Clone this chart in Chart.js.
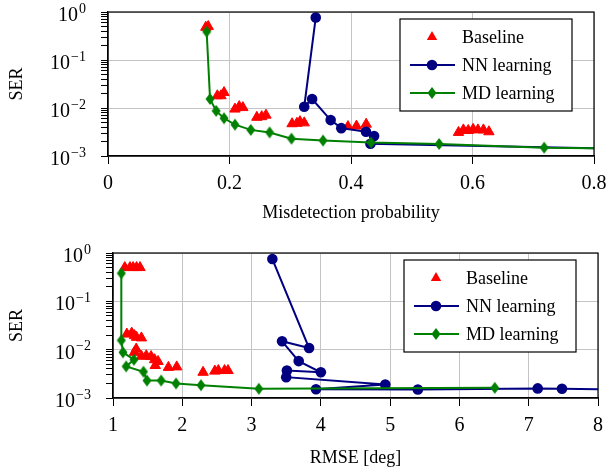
<!DOCTYPE html>
<html>
<head>
<meta charset="utf-8">
<script src="https://cdn.jsdelivr.net/npm/chart.js@4.4.0/dist/chart.umd.min.js"></script>
<style>
  html, body { margin: 0; padding: 0; background: #fff; }
  #wrap { position: relative; width: 608px; height: 470px; }
  canvas { position: absolute; left: 0; }
</style>
</head>
<body>
<div id="wrap">
  <canvas id="chartMd" width="608" height="235" style="top:0"></canvas>
  <canvas id="chartRmse" width="608" height="235" style="top:235px"></canvas>
</div>
<script>
const FONT = "'Liberation Serif', 'DejaVu Serif', serif";
const RED = '#ff0000', NAVY = '#000080', GREEN = '#008000', GRID = '#c4c4c4';

Chart.defaults.font.family = FONT;
Chart.defaults.color = '#000';

// series names + y decades
const seriesNames = ['Baseline', 'NN learning', 'MD learning'];
const yExponents = [-3, -2, -1, 0];

// --- top: SER vs misdetection probability
const mdTicks = [0, 0.2, 0.4, 0.6, 0.8];
const mdBaseX = [0.161, 0.165, 0.180, 0.186, 0.191, 0.209, 0.216, 0.222, 0.245, 0.253, 0.260, 0.303, 0.311, 0.316, 0.323, 0.395, 0.409, 0.425, 0.577, 0.585, 0.593, 0.601, 0.609, 0.618, 0.627];
const mdBaseY = [0.48, 0.50, 0.018, 0.018, 0.021, 0.0095, 0.0107, 0.0102, 0.0064, 0.0066, 0.0071, 0.0047, 0.0048, 0.0052, 0.0049, 0.0041, 0.0042, 0.0046, 0.0031, 0.0035, 0.0034, 0.0036, 0.0035, 0.0035, 0.0032];
const mdNnX = [0.342, 0.323, 0.336, 0.3665, 0.384, 0.4247, 0.438, 0.432, 0.85];
const mdNnY = [0.77, 0.0106, 0.0154, 0.0056, 0.0038, 0.0032, 0.0026, 0.0018, 0.0014];
const mdMdX = [0.1624, 0.168, 0.178, 0.191, 0.209, 0.235, 0.266, 0.302, 0.354, 0.433, 0.545, 0.718, 0.85];
const mdMdY = [0.39, 0.0154, 0.0087, 0.0061, 0.0045, 0.0035, 0.0031, 0.0023, 0.0021, 0.0019, 0.00178, 0.00149, 0.00143];

// --- bottom: SER vs RMSE
const rmseTicks = [1, 2, 3, 4, 5, 6, 7, 8];
const rmseBaseX = [1.17, 1.245, 1.29, 1.34, 1.39, 1.20, 1.27, 1.31, 1.34, 1.41, 1.335, 1.31, 1.41, 1.48, 1.55, 1.60, 1.65, 1.61, 1.80, 1.92, 2.30, 2.47, 2.52, 2.61, 2.66];
const rmseBaseY = [0.5, 0.5, 0.5, 0.5, 0.5, 0.021, 0.022, 0.0195, 0.018, 0.0175, 0.0103, 0.0088, 0.0073, 0.0075, 0.0072, 0.0062, 0.0057, 0.0047, 0.0043, 0.0044, 0.0034, 0.0036, 0.0037, 0.0037, 0.0037];
const rmseNnX = [3.30, 3.83, 3.44, 3.68, 4.00, 3.51, 3.50, 4.93, 3.93, 5.40, 7.13, 7.48, 8.5];
const rmseNnY = [0.75, 0.0108, 0.0149, 0.0058, 0.0034, 0.0037, 0.0027, 0.0019, 0.00152, 0.0015, 0.00158, 0.00155, 0.0015];
const rmseMdX = [1.12, 1.12, 1.144, 1.302, 1.19, 1.44, 1.49, 1.695, 1.91, 2.27, 3.105, 6.51];
const rmseMdY = [0.38, 0.0156, 0.0088, 0.0062, 0.0045, 0.0035, 0.0023, 0.0023, 0.0020, 0.00184, 0.00155, 0.00162];

const pts = (xs, ys) => xs.map((x, i) => ({ x, y: ys[i] }));

// diamond* mark, pgfplots style (taller than wide)
const diamond = document.createElement('canvas');
diamond.width = 10; diamond.height = 14;
(() => {
    const c = diamond.getContext('2d');
    c.fillStyle = GREEN;
    c.beginPath(); c.moveTo(5, 1); c.lineTo(9.5, 7); c.lineTo(5, 13); c.lineTo(0.5, 7); c.closePath(); c.fill();
})();

const makeDatasets = (bx, by, nx, ny, mx, my) => [
    { label: seriesNames[0], data: pts(bx, by), showLine: false, order: 3,
      pointStyle: 'triangle', pointRadius: 6, backgroundColor: RED, borderColor: RED, pointBorderWidth: 1 },
    { label: seriesNames[1], data: pts(nx, ny), showLine: true, order: 2, borderWidth: 2, tension: 0,
      pointStyle: 'circle', pointRadius: 5.3, backgroundColor: NAVY, borderColor: NAVY, pointBorderWidth: 0 },
    { label: seriesNames[2], data: pts(mx, my), showLine: true, order: 1, borderWidth: 2, tension: 0,
      pointStyle: diamond, backgroundColor: GREEN, borderColor: GREEN }
];

const frame = {
    id: 'frame',
    afterDatasetsDraw(chart) {
        const { ctx, chartArea: a } = chart;
        ctx.save();
        ctx.strokeStyle = '#000'; ctx.lineWidth = 1.2;
        ctx.strokeRect(a.left, a.top, a.right - a.left, a.bottom - a.top);
        ctx.restore();
    }
};

// 10^k labels with real superscripts
const powerLabels = {
    id: 'powerLabels',
    afterDraw(chart, args, opts) {
        const ctx = chart.ctx, y = chart.scales.y;
        const right = chart.chartArea.left - opts.gap;
        ctx.save();
        ctx.fillStyle = '#000'; ctx.textBaseline = 'alphabetic'; ctx.textAlign = 'left';
        yExponents.forEach(e => {
            const py = y.getPixelForValue(Math.pow(10, e));
            const exp = e === 0 ? '0' : '\u2212' + (-e);
            ctx.font = '14px ' + FONT; const ew = ctx.measureText(exp).width;
            ctx.font = '20px ' + FONT; const bw = ctx.measureText('10').width;
            ctx.fillText('10', right - ew - bw - 1, py + 9);
            ctx.font = '14px ' + FONT;
            ctx.fillText(exp, right - ew, py + 0.5);
        });
        ctx.restore();
    }
};

const boxLegend = {
    id: 'boxLegend',
    afterDraw(chart, args, opts) {
        const { ctx, chartArea: a } = chart;
        const x0 = a.right - opts.right - opts.width, y0 = a.top + opts.top;
        ctx.save();
        ctx.fillStyle = '#fff'; ctx.fillRect(x0, y0, opts.width, opts.height);
        ctx.strokeStyle = '#000'; ctx.lineWidth = 1.2; ctx.strokeRect(x0, y0, opts.width, opts.height);
        chart.data.datasets.forEach((ds, i) => {
            const cy = y0 + 18 + i * 28, mx = x0 + 32;
            if (ds.showLine) {
                ctx.strokeStyle = ds.borderColor; ctx.lineWidth = 2;
                ctx.beginPath(); ctx.moveTo(x0 + 10, cy); ctx.lineTo(x0 + 55, cy); ctx.stroke();
            }
            ctx.fillStyle = ds.backgroundColor;
            if (ds.pointStyle === 'triangle') {
                const r = 6;
                ctx.beginPath();
                ctx.moveTo(mx, cy - r); ctx.lineTo(mx + r * 0.866, cy + r / 2); ctx.lineTo(mx - r * 0.866, cy + r / 2);
                ctx.closePath(); ctx.fill();
            } else if (ds.pointStyle === 'circle') {
                ctx.beginPath(); ctx.arc(mx, cy, 5.3, 0, Math.PI * 2); ctx.fill();
            } else {
                ctx.drawImage(ds.pointStyle, mx - 5, cy - 7);
            }
            ctx.fillStyle = '#000'; ctx.font = '18px ' + FONT;
            ctx.textAlign = 'left'; ctx.textBaseline = 'middle';
            ctx.fillText(ds.label, x0 + 62, cy + 1);
        });
        ctx.restore();
    }
};

const logAxis = (w) => ({
    type: 'logarithmic', min: 1e-3, max: 1,
    afterBuildTicks: (axis) => {
        const t = [];
        yExponents.forEach(e => {
            for (let m = 1; m <= 9; m++) {
                if (e === 0 && m > 1) break;
                t.push({ value: m * Math.pow(10, e), major: m === 1 });
            }
        });
        axis.ticks = t;
    },
    afterFit: (axis) => { axis.width = w; axis.paddingTop = 0; axis.paddingBottom = 0; },
    ticks: { autoSkip: false, callback: () => '' },
    grid: { color: c => (c.tick && c.tick.major ? GRID : 'rgba(0,0,0,0)'), tickColor: '#000', tickLength: 7, lineWidth: 1 },
    border: { color: '#000', width: 1.2 },
    title: { display: true, text: 'SER', font: { size: 18 }, color: '#000', padding: { top: 6, bottom: 0 } }
});

const linAxis = (ticks, h, text, pad, fmt) => ({
    type: 'linear', min: ticks[0], max: ticks[ticks.length - 1],
    afterBuildTicks: (axis) => { axis.ticks = ticks.map(v => ({ value: v })); },
    // fixed height, and no extra room for the end labels: the layout padding does that
    afterFit: (axis) => { axis.height = h; axis.paddingLeft = 0; axis.paddingRight = 0; },
    ticks: { autoSkip: false, maxRotation: 0, padding: 8, font: { size: 20 }, color: '#000', callback: fmt },
    grid: { color: GRID, tickColor: '#000', tickLength: 8, lineWidth: 1 },
    border: { color: '#000', width: 1.2 },
    title: { display: true, text, font: { size: 18 }, color: '#000', padding: { top: 0, bottom: pad } }
});

const build = (id, datasets, xAxis, yWidth, padding) => new Chart(document.getElementById(id), {
    type: 'scatter',
    data: { datasets },
    options: {
        responsive: false, animation: false, devicePixelRatio: 1, events: [],
        layout: { padding },
        scales: { x: xAxis, y: logAxis(yWidth) },
        plugins: {
            legend: { display: false }, tooltip: { enabled: false },
            powerLabels: { gap: 22 },
            boxLegend: { right: 22, top: 7, width: 172, height: 92 }
        }
    },
    plugins: [frame, powerLabels, boxLegend]
});

build('chartMd', makeDatasets(mdBaseX, mdBaseY, mdNnX, mdNnY, mdMdX, mdMdY),
    linAxis(mdTicks, 79, 'Misdetection probability', 11, v => String(Math.round(v * 10) / 10)),
    108, { left: 0, right: 14, top: 12, bottom: 0 });

build('chartRmse', makeDatasets(rmseBaseX, rmseBaseY, rmseNnX, rmseNnY, rmseMdX, rmseMdY),
    linAxis(rmseTicks, 72, 'RMSE [deg]', 1, v => String(v)),
    113, { left: 0, right: 10, top: 18, bottom: 0 });
</script>
</body>
</html>
